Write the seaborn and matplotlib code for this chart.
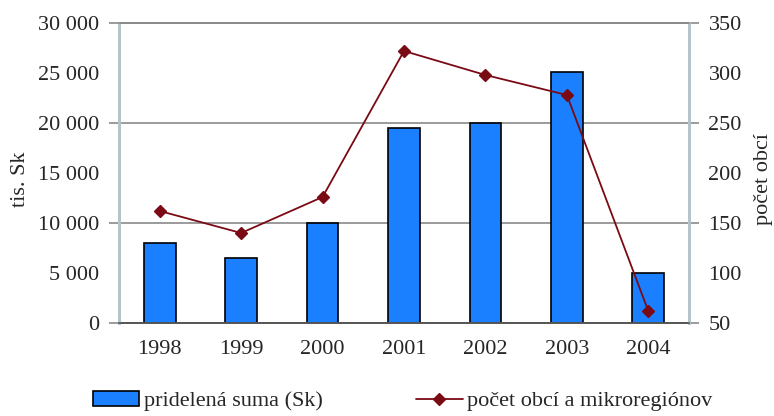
import matplotlib
matplotlib.use("Agg")
import matplotlib.pyplot as plt
import matplotlib.ticker as mticker
import seaborn as sns
import pandas as pd

years = ["1998", "1999", "2000", "2001", "2002", "2003", "2004"]
suma = [8000, 6500, 10000, 19500, 20000, 25100, 5050]
obce = [162, 140, 176, 322, 298, 278, 62]

bar_label = "pridelená suma (Sk)"
line_label = "počet obcí a mikroregiónov"

sns.set_theme(style="white")
plt.rcParams["font.family"] = ["Liberation Serif", "DejaVu Serif"]

df = pd.DataFrame({"rok": years, "suma": suma, "obce": obce})

fig = plt.figure(figsize=(7.74, 4.16), dpi=100)
ax = fig.add_axes([119 / 774, 1 - 323 / 416, (689 - 119) / 774, (323 - 23) / 416])

sns.barplot(data=df, x="rok", y="suma", ax=ax, color="#1A80FF", saturation=1,
            width=0.39, edgecolor="black", linewidth=1.2, label=bar_label)

ax2 = ax.twinx()
sns.pointplot(data=df, x="rok", y="obce", ax=ax2, color="#7A0A14", markers="D",
              linestyles="-", markersize=6, linewidth=1.3, label=line_label)

spine_col = "#B4C4C8"
grid_col = "#8A8A8A"
fs = 16

ax.set_ylim(0, 30000)
ax2.set_ylim(50, 350)
ax.set_xlim(-0.5, 6.5)

for a in (ax, ax2):
    a.yaxis.remove_overlapping_locs = False

fmt = mticker.FuncFormatter(lambda v, p: f"{int(v):,}".replace(",", " "))
ax.set_yticks(range(0, 30001, 5000))
ax.yaxis.set_major_formatter(fmt)
ax.set_yticks([0, 10000, 20000, 30000], minor=True)
ax.tick_params(axis="y", which="major", length=0, labelsize=fs, pad=14)
ax.tick_params(axis="y", which="minor", length=7, width=1.2, color=grid_col, direction="out")
ax.grid(which="minor", axis="y", color=grid_col, linewidth=1.2)
ax.grid(which="major", visible=False)
ax.set_axisbelow(True)

ax2.set_yticks(range(50, 351, 50))
ax2.set_yticks([50, 150, 250, 350], minor=True)
ax2.tick_params(axis="y", which="major", length=0, labelsize=fs, pad=14)
ax2.tick_params(axis="y", which="minor", length=7, width=1.2, color=grid_col, direction="out")
ax2.grid(False)

ax.set_xticks(range(len(years)))
ax.set_xticklabels(years)
ax.set_xticks([i + 0.5 for i in range(len(years) - 1)], minor=True)
ax.tick_params(axis="x", which="major", length=0, labelsize=fs, pad=12)
ax.tick_params(axis="x", which="minor", length=7, width=1.2, color=spine_col, direction="out")

ax.set_xlabel("")
ax.set_ylabel("tis. Sk", fontsize=fs, labelpad=6)
ax2.set_ylabel("počet obcí", fontsize=fs, labelpad=9)

for a in (ax, ax2):
    for s in ["left", "right", "top"]:
        a.spines[s].set_color(spine_col)
        a.spines[s].set_linewidth(2)
    a.spines["bottom"].set_color("#555555")
    a.spines["bottom"].set_linewidth(1.2)
ax.spines["top"].set_color(grid_col)
ax.spines["top"].set_linewidth(1.2)
ax2.spines["top"].set_color(grid_col)
ax2.spines["top"].set_linewidth(1.2)

ax.yaxis.label.set_position((0, 0.48))
ax2.yaxis.label.set_position((1, 0.48))

for lg in (ax.get_legend(), ax2.get_legend()):
    if lg is not None:
        lg.remove()

h1, l1 = ax.get_legend_handles_labels()
h2, l2 = ax2.get_legend_handles_labels()
fig.legend(h1 + h2, l1 + l2, loc="center", bbox_to_anchor=(0.52, 0.036), ncol=2,
           frameon=False, fontsize=fs, handlelength=2.1, handletextpad=0.2,
           columnspacing=4.2, borderaxespad=0)

fig.savefig("out.png", dpi=100)
